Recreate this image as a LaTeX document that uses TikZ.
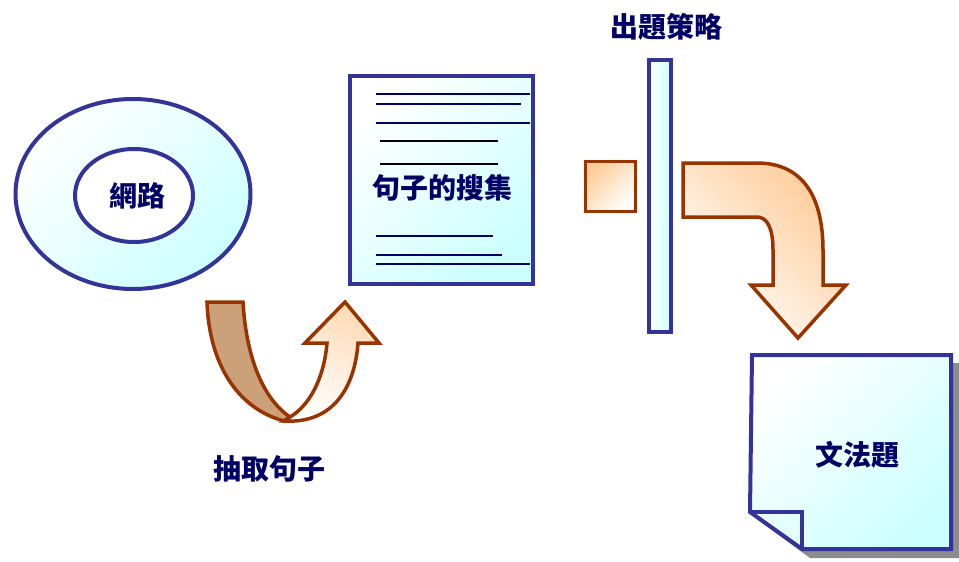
\documentclass[tikz,border=0pt]{standalone}
\usepackage{fontspec}
\newfontfamily\cjk{Noto Sans CJK TC}
\usetikzlibrary{shapes.geometric}
\definecolor{bluebd}{RGB}{51,51,153}
\definecolor{brownbd}{RGB}{153,51,0}
\definecolor{navy}{RGB}{0,0,102}
\definecolor{lcyan}{RGB}{204,255,255}
\definecolor{peach}{RGB}{255,204,153}
\definecolor{tan}{RGB}{204,160,120}
\tikzset{
  bluebox/.style={draw=bluebd, line width=4pt, inner sep=0pt},
  cyanfill/.style={top color=white, bottom color=lcyan, shading angle=45},
  brownbox/.style={draw=brownbd, line width=3.5pt, line join=miter},
  label/.style={font=\cjk\bfseries\fontsize{28}{30}\selectfont, text=navy, inner sep=0pt},
  docline/.style={draw=navy, line width=2.5pt},
  blkline/.style={draw=black, line width=2pt},
}
\begin{document}
\begin{tikzpicture}[x=1pt,y=-1pt]
\useasboundingbox (0,0) rectangle (959,562);
% network ellipses
\node[bluebox, ellipse, cyanfill, minimum width=235, minimum height=190] (outer) at (133,194) {};
\node[bluebox, ellipse, fill=white, minimum width=118, minimum height=93] (inner) at (134,195.5) {};
\node[label] (net) at (137,196) {網路};
% document
\node[bluebox, rectangle, cyanfill, minimum width=183, minimum height=208] (doc) at (441.5,180) {};
\coordinate (l1a) at (376,94);  \coordinate (l1b) at (530,94);
\coordinate (l2a) at (376,104); \coordinate (l2b) at (521,104);
\coordinate (l3a) at (376,123); \coordinate (l3b) at (530,123);
\coordinate (l4a) at (380,141); \coordinate (l4b) at (498,141);
\coordinate (l5a) at (380,164); \coordinate (l5b) at (498,164);
\coordinate (l6a) at (376,236); \coordinate (l6b) at (493,236);
\coordinate (l7a) at (376,255); \coordinate (l7b) at (502,255);
\coordinate (l8a) at (376,264); \coordinate (l8b) at (530,264);
\draw[docline] (l1a) -- (l1b);
\draw[docline] (l2a) -- (l2b);
\draw[docline] (l3a) -- (l3b);
\draw[blkline] (l4a) -- (l4b);
\draw[blkline] (l5a) -- (l5b);
\draw[docline] (l6a) -- (l6b);
\draw[docline] (l7a) -- (l7b);
\draw[docline] (l8a) -- (l8b);
\node[label] (collect) at (442,188) {句子的搜集};
% strategy bar
\node[label] (strat) at (666,27) {出題策略};
\node[bluebox, rectangle, left color=white, right color=lcyan, minimum width=22, minimum height=272] (bar) at (660,196) {};
\node[brownbox, rectangle, top color=peach, bottom color=white, shading angle=45, minimum width=50, minimum height=50, inner sep=0pt] (sq) at (610.5,186.5) {};
% bent arrow
\path[brownbox, top color=peach, bottom color=white, shading angle=-45]
  (683,163) -- (757,163) .. controls (805,163) and (823,200) .. (823,250) -- (823,285)
  -- (846,285) -- (798,338) -- (751,285) -- (773,285) -- (773,250)
  .. controls (773,228) and (767,217) .. (757,217) -- (683,217) -- cycle;
% U arrow (extract)
\path[brownbox, fill=tan]
  (207,302) -- (243,302) .. controls (246,355) and (262,398) .. (290,417)
  -- (284,421) .. controls (236,408) and (209,362) .. (207,302) -- cycle;
\path[brownbox, top color=peach!70, bottom color=white, shading angle=-30]
  (284,421) .. controls (335,424) and (355,385) .. (358,343) -- (379,343) -- (345,302)
  -- (305,343) -- (327,343) .. controls (324,378) and (310,405) .. (290,417) -- cycle;
\node[label] (extract) at (269,469) {抽取句子};
% grammar question note
\fill[gray!90] (760,363) -- (960,363) -- (960,558) -- (810,558) -- (758,520) -- cycle;
\path[bluebox, cyanfill, line join=miter]
  (752,355) -- (951,355) -- (951,549) -- (802,549) -- (750,512) -- cycle;
\draw[bluebox, line join=miter] (750,512) -- (802,512) -- (802,549);
\node[label] (gram) at (857,455) {文法題};
\end{tikzpicture}
\end{document}
